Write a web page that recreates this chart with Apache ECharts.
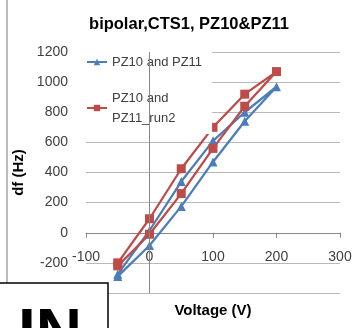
<!DOCTYPE html>
<html>
<head>
<meta charset="utf-8">
<script src="https://cdn.jsdelivr.net/npm/echarts@6/dist/echarts.min.js"></script>
<style>
  html, body { margin: 0; padding: 0; background: #fff; }
  #chart { width: 352px; height: 328px; }
</style>
</head>
<body>
<div id="chart"></div>
<script>
// sweep -50 -> 200 -> -50
const voltage = [-50, 0, 50, 100, 150, 200, 150, 100, 50, 0, -50]
const pz10pz11 = [-290, -85, 175, 470, 740, 970, 800, 610, 340, 15, -275]
const pz10pz11Run2 = [-220, -10, 260, 560, 840, 1070, 920, 700, 425, 93, -200]
const seriesNames = ['PZ10 and PZ11', 'PZ10 and\nPZ11_run2']

const font = 'Liberation Sans'
const gray = '#404040'

const chart = echarts.init(document.getElementById('chart'))

const pairs = (ys) => voltage.map((v, i) => [v, ys[i]])

// grid: 1200 at y=52, -400 at y=293 -> y=0 sits 60px above the bottom
const gridTop = 52
const gridBottom = 35
const yMin = -400
const yMax = 1200
const plotH = 328 - gridTop - gridBottom
const zeroOffset = plotH * (0 - yMin) / (yMax - yMin)

const option = {
  animation: false,
  title: {
    text: 'bipolar,CTS1, PZ10&PZ11',
    left: 184,
    textAlign: 'center',
    top: 11,
    textStyle: { fontFamily: font, fontSize: 16.5, fontWeight: 'bold', color: '#000' }
  },
  legend: {
    orient: 'vertical',
    left: 84,
    top: 50,
    itemWidth: 20,
    itemHeight: 8,
    itemGap: 16,
    padding: [2, 10, 6, 2],
    backgroundColor: '#fff',
    textStyle: { fontFamily: font, fontSize: 13, color: gray, lineHeight: 20 },
    data: seriesNames
  },
  grid: { left: 86, right: 12, top: gridTop, bottom: gridBottom, outerBoundsMode: 'none', containLabel: false },
  xAxis: {
    type: 'value',
    min: -100,
    max: 300,
    interval: 100,
    position: 'bottom',
    offset: -zeroOffset,
    name: 'Voltage (V)',
    nameLocation: 'middle',
    nameGap: 71,
    nameTextStyle: { fontFamily: font, fontSize: 15, fontWeight: 'bold', color: '#000' },
    axisLine: { onZero: false, lineStyle: { color: '#888' } },
    axisTick: { length: 5, lineStyle: { color: '#888' } },
    axisLabel: { margin: 17, fontFamily: font, fontSize: 14, color: gray },
    splitLine: { show: false }
  },
  yAxis: {
    type: 'value',
    min: yMin,
    max: yMax,
    interval: 200,
    name: 'df (Hz)',
    nameLocation: 'middle',
    nameGap: 60,
    nameTextStyle: { fontFamily: font, fontSize: 15, fontWeight: 'bold', color: '#000' },
    axisLine: { show: false, onZero: false },
    axisTick: { show: false },
    axisLabel: { margin: 18, fontFamily: font, fontSize: 14, color: gray, formatter: (v) => String(v) },
    splitLine: { lineStyle: { color: '#b8b8b8' } }
  },
  series: [
    {
      name: seriesNames[0],
      type: 'line',
      data: pairs(pz10pz11),
      symbol: 'triangle',
      symbolSize: 9,
      color: '#4a7ebb',
      lineStyle: { width: 2.25 },
      markLine: {
        silent: true,
        symbol: 'none',
        label: { show: false },
        lineStyle: { color: '#888', width: 1, type: 'solid' },
        data: [{ xAxis: 0 }]
      }
    },
    {
      name: seriesNames[1],
      type: 'line',
      data: pairs(pz10pz11Run2),
      symbol: 'rect',
      symbolSize: 9,
      color: '#be4b48',
      lineStyle: { width: 2.25 }
    }
  ],
  graphic: [
    { type: 'line', shape: { x1: 7, y1: 0, x2: 7, y2: 283 }, style: { stroke: '#777', lineWidth: 1 } },
    {
      type: 'rect',
      z: 100,
      shape: { x: -2, y: 283, width: 110, height: 60 },
      style: { fill: '#fff', stroke: '#000', lineWidth: 1.5 }
    },
    {
      type: 'text',
      z: 101,
      left: 18,
      top: 304,
      style: { text: 'IN', fontFamily: font, fontSize: 64, fontWeight: 'bold', fill: '#000' }
    }
  ]
}

chart.setOption(option)
</script>
</body>
</html>
